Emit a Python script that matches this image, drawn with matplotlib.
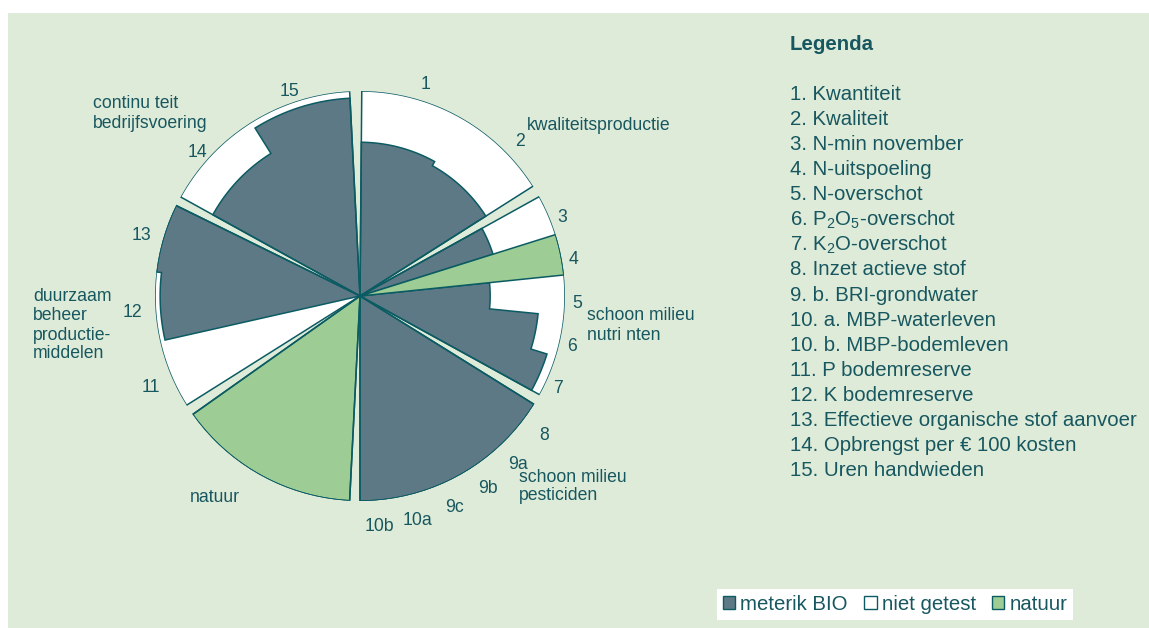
import numpy as np
import matplotlib
matplotlib.use("Agg")
import matplotlib.pyplot as plt
from matplotlib.patches import Patch, Rectangle
from matplotlib.transforms import offset_copy

plt.rcParams["font.family"] = ["Liberation Sans", "DejaVu Sans"]
plt.rcParams["mathtext.fontset"] = "custom"
plt.rcParams["mathtext.rm"] = "Liberation Sans"
plt.rcParams["mathtext.it"] = "Liberation Sans:italic"

# === data ===
group_names = [
    "kwaliteitsproductie",
    "schoon milieu\nnutri nten",
    "schoon milieu\npesticiden",
    "natuur",
    "duurzaam\nbeheer\nproductie-\nmiddelen",
    "continu teit\nbedrijfsvoering",
]
group_items = [
    ["1", "2"],
    ["3", "4", "5", "6", "7"],
    ["8", "9a", "9b", "9c", "10a", "10b"],
    [""],
    ["11", "12", "13"],
    ["14", "15"],
]
# score as fraction of the full radius; None = natuur (green, full)
group_scores = [
    [0.75, 0.727],
    [0.68, None, 0.635, 0.873, 0.955],
    [1.0, 1.0, 1.0, 1.0, 1.0, 1.0],
    [None],
    [0.0, 0.975, 1.0],
    [0.82, 0.966],
]
legend_lines = [
    "1. Kwantiteit",
    "2. Kwaliteit",
    "3. N-min november",
    "4. N-uitspoeling",
    "5. N-overschot",
    "6. P$_2$O$_5$-overschot",
    "7. K$_2$O-overschot",
    "8. Inzet actieve stof",
    "9. b. BRI-grondwater",
    "10. a. MBP-waterleven",
    "10. b. MBP-bodemleven",
    "11. P bodemreserve",
    "12. K bodemreserve",
    "13. Effectieve organische stof aanvoer",
    "14. Opbrengst per € 100 kosten",
    "15. Uren handwieden",
]
key_labels = ["meterik BIO", "niet getest", "natuur"]

# === layout / style ===
group_start = [0.5, 61.0, 121.9, 182.9, 237.8, 298.9]
group_end = [57.6, 118.8, 180.0, 234.7, 296.2, 357.1]
label_r = [1.09, 1.06, 1.12, 1.1, 1.11, 1.065]
label_shift = [2.3, 1.5, 0.0, 0.0, -0.6, -1.5]
group_label_pos = [(527, [125]), (587, [316, 335]), (519, [477, 496]),
                   (190, [498]), (33, [297, 316, 335, 354]), (93, [104, 124])]

BG = "#dfebd9"
DARK = "#5c7985"
GREEN = "#9dcc94"
EDGE = "#0b5b63"
TXT = "#17575f"
LW = 1.1

W, H = 1149, 628


def fx(x):
    return x / W


def fy(y):
    return 1 - y / H


def arc(a, b):
    return list(np.linspace(a, b, max(int(np.degrees(b - a)), 2) + 1))


def step_profile(t0, w, values):
    # closed outline (theta, r) from the centre around a run of items
    th, rr = [t0], [0.0]
    for k, v in enumerate(values):
        seg = arc(t0 + k * w, t0 + (k + 1) * w)
        th += seg
        rr += [v] * len(seg)
    th += [t0 + len(values) * w, t0]
    rr += [0.0, 0.0]
    return th, rr


fig = plt.figure(figsize=(W / 100, H / 100), dpi=100)
fig.patch.set_facecolor("white")
fig.patches.append(Rectangle((fx(8), 0), 1, fy(13), transform=fig.transFigure,
                             facecolor=BG, edgecolor="none", zorder=-10))

cx, cy, R = 360, 296, 205
ax = fig.add_axes([fx(cx - R), fy(cy + R), 2 * R / W, 2 * R / H], projection="polar")
ax.set_theta_zero_location("N")
ax.set_theta_direction(-1)
ax.set_ylim(0, 1)
ax.axis("off")
label_tr = offset_copy(ax.transData, fig=fig, y=-2, units="dots")

for g, items in enumerate(group_items):
    n = len(items)
    t0, t1 = np.radians(group_start[g]), np.radians(group_end[g])
    w = (t1 - t0) / n
    centers = t0 + w * (np.arange(n) + 0.5)
    scores = group_scores[g]

    # white background for the whole group
    th, rr = step_profile(t0, t1 - t0, [1.0])
    ax.fill(th, rr, facecolor="white", edgecolor="none", zorder=1)

    # dark runs of consecutive scored items
    i = 0
    while i < n:
        if scores[i] is not None and scores[i] > 0:
            j = i
            while j < n and scores[j] is not None and scores[j] > 0:
                j += 1
            th, rr = step_profile(t0 + i * w, w, scores[i:j])
            ax.fill(th, rr, facecolor=DARK, edgecolor=EDGE, linewidth=LW,
                    joinstyle="miter", zorder=2)
            i = j
        else:
            i += 1

    # natuur items
    for i in range(n):
        if scores[i] is None:
            th, rr = step_profile(t0 + i * w, w, [1.0])
            ax.fill(th, rr, facecolor=GREEN, edgecolor=EDGE, linewidth=LW,
                    zorder=3)

    # group outline
    th, rr = step_profile(t0, t1 - t0, [1.0])
    ax.fill(th, rr, facecolor="none", edgecolor=EDGE, linewidth=LW, zorder=4)

    for i, lab in enumerate(items):
        if lab:
            ax.text(centers[i] + np.radians(label_shift[g]), label_r[g], lab,
                    transform=label_tr, ha="center", va="center",
                    fontsize=12.7, color=TXT)

for g, name in enumerate(group_names):
    x, ys = group_label_pos[g]
    for line, y in zip(name.split("\n"), ys):
        fig.text(fx(x), fy(y), line, ha="left", va="center",
                 fontsize=12.7, color=TXT)

fig.text(fx(790), fy(44), "Legenda", ha="left", va="center",
         fontsize=14.7, fontweight="bold", color=TXT)
for i, line in enumerate(legend_lines):
    fig.text(fx(790), fy(94 + 25.13 * i), line, ha="left", va="center",
             fontsize=14.7, color=TXT)

handles = [
    Patch(facecolor=DARK, edgecolor=EDGE, linewidth=1),
    Patch(facecolor="white", edgecolor=EDGE, linewidth=1),
    Patch(facecolor=GREEN, edgecolor=EDGE, linewidth=1),
]
leg = fig.legend(handles, key_labels, loc="lower left",
                 bbox_to_anchor=(fx(717), fy(620)), ncol=3, frameon=True,
                 fancybox=False, framealpha=1, edgecolor="white",
                 fontsize=14.7, handlelength=0.6, handleheight=0.6,
                 handletextpad=0.25, columnspacing=0.8, borderpad=0.3,
                 borderaxespad=0)
leg.get_frame().set_linewidth(0)
for t in leg.get_texts():
    t.set_color(TXT)

fig.savefig("out.png", dpi=100, facecolor=fig.get_facecolor())
